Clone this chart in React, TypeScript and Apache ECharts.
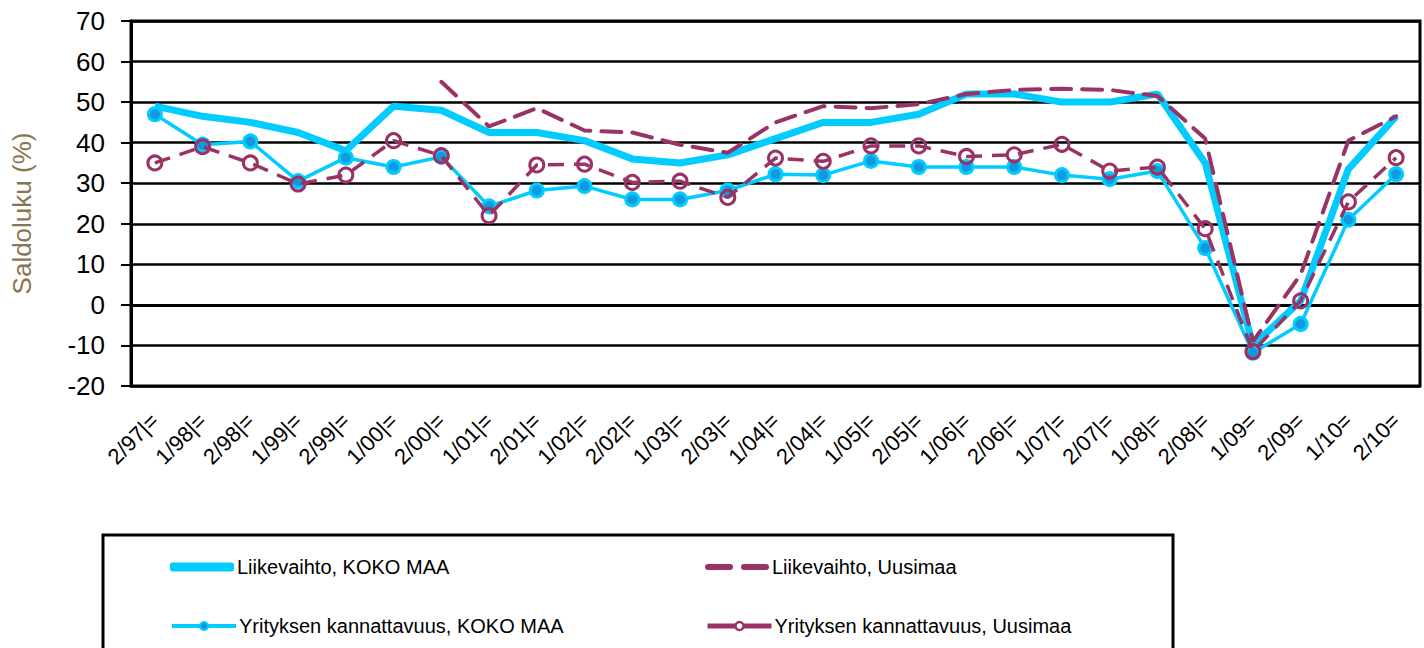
import React, { useEffect, useRef } from "react";
import * as echarts from "echarts";

const categories = [
  "2/97|=", "1/98|=", "2/98|=", "1/99|=", "2/99|=", "1/00|=", "2/00|=", "1/01|=", "2/01|=",
  "1/02|=", "2/02|=", "1/03|=", "2/03|=", "1/04|=", "2/04|=", "1/05|=", "2/05|=", "1/06|=",
  "2/06|=", "1/07|=", "2/07|=", "1/08|=", "2/08|=", "1/09=", "2/09=", "1/10=", "2/10=",
];

const liikevaihtoKoko = [49, 46.5, 45, 42.5, 38, 49, 48, 42.5, 42.5, 40.5, 36, 35, 37, 41, 45, 45, 47, 52, 52, 50, 50, 52, 35, -10, 1, 33.5, 46.5];
const liikevaihtoUusimaa = [null, null, null, null, null, null, 55, 44, 48.5, 43, 42.5, 39.5, 37.5, 45, 49, 48.5, 49.5, 52, 53, 53.3, 53, 51.5, 41, -9, 7.5, 40.5, 46.5];
const kannattavuusKoko = [47, 39.5, 40.3, 30.5, 36.3, 34, 36.5, 24.3, 28.2, 29.3, 26, 26, 28.2, 32.2, 32, 35.5, 34, 34, 34, 32, 31, 33, 14, -11.8, -4.7, 21, 32.2];
const kannattavuusUusimaa = [35, 39, 35, 29.8, 32, 40.5, 36.8, 22, 34.5, 34.7, 30.2, 30.5, 26.5, 36.2, 35.4, 39.2, 39.2, 36.6, 37, 39.6, 33, 34, 18.8, -11.5, 1, 25.4, 36.3];

const seriesNames = [
  "Liikevaihto, KOKO MAA",
  "Liikevaihto, Uusimaa",
  "Yrityksen kannattavuus, KOKO MAA",
  "Yrityksen kannattavuus, Uusimaa",
];

const CYAN = "#00CCFF";
const PURPLE = "#993366";
const FONT = "Liberation Sans, Arial, sans-serif";

export default function App() {
  const ref = useRef<HTMLDivElement>(null);
  useEffect(() => {
    if (!ref.current) return;
    const chart = echarts.init(ref.current, undefined, { renderer: "svg" });
    const legendPos = [
      { left: 170, top: 557 },
      { left: 705, top: 557 },
      { left: 170, top: 616 },
      { left: 705, top: 616 },
    ];
    const legendData: any[] = [
      { name: seriesNames[0], icon: "roundRect" },
      { name: seriesNames[1], icon: "path://M3,0h22a3,3 0 0 1 0,6h-22a3,3 0 0 1 0,-6z M39,0h22a3,3 0 0 1 0,6h-22a3,3 0 0 1 0,-6z" },
      { name: seriesNames[2], itemStyle: { color: "#1199DD", borderColor: CYAN, borderWidth: 2 } },
      { name: seriesNames[3], itemStyle: { color: "#fff", borderColor: PURPLE, borderWidth: 2.5 } },
    ];
    const legendCfg: any[] = [
      { itemHeight: 9 },
      { itemHeight: 6 },
      { itemHeight: 10, lineStyle: { width: 4, type: "solid" } },
      { itemHeight: 10, lineStyle: { width: 5, type: "solid" } },
    ];
    chart.setOption({
      animation: false,
      backgroundColor: "#fff",
      textStyle: { fontFamily: FONT },
      grid: {
        left: 131, right: 4, top: 21, bottom: 262,
        show: true, borderColor: "#000", borderWidth: 3,
      },
      xAxis: {
        type: "category",
        data: categories,
        boundaryGap: true,
        axisLine: { show: true, lineStyle: { color: "#000", width: 3 } },
        axisTick: { show: false },
        axisLabel: { rotate: 45, fontSize: 22, color: "#000", margin: 31, interval: 0, fontFamily: FONT },
      },
      yAxis: {
        type: "value",
        min: -20, max: 70, interval: 10,
        name: "Saldoluku (%)",
        nameLocation: "middle",
        nameRotate: 90,
        nameGap: 96,
        nameTextStyle: { fontSize: 26, color: "#8a7550", fontFamily: FONT, padding: [0, 20, 0, 0] },
        axisLine: { show: true, lineStyle: { color: "#000", width: 3 } },
        axisTick: { show: true, length: 10, lineStyle: { color: "#000", width: 2 } },
        axisLabel: { fontSize: 26, color: "#000", margin: 26, fontFamily: FONT },
        splitLine: { show: true, lineStyle: { color: "#000", width: 2.5 } },
      },
      legend: seriesNames.map((n, i) => ({
        data: [legendData[i]],
        left: legendPos[i].left,
        top: legendPos[i].top,
        padding: 0,
        itemWidth: 64,
        itemGap: 4,
        ...legendCfg[i],
        textStyle: { fontSize: 20, color: "#000", fontFamily: FONT, padding: [0, 0, 0, -2] },
        selectedMode: false,
      })),
      graphic: [
        {
          type: "rect",
          shape: { x: 103, y: 535, width: 1070, height: 130 },
          style: { fill: "none", stroke: "#000", lineWidth: 3 },
          z: 100,
        },
      ],
      series: [
        {
          name: seriesNames[0],
          type: "line",
          data: liikevaihtoKoko,
          symbol: "none",
          lineStyle: { color: CYAN, width: 7 },
          itemStyle: { color: CYAN },
          z: 2,
        },
        {
          name: seriesNames[1],
          type: "line",
          data: liikevaihtoUusimaa,
          symbol: "none",
          connectNulls: false,
          lineStyle: { color: PURPLE, width: 4, type: [20, 11], cap: "round" },
          itemStyle: { color: PURPLE },
          z: 3,
        },
        {
          name: seriesNames[2],
          type: "line",
          data: kannattavuusKoko,
          symbol: "circle",
          symbolSize: 13,
          lineStyle: { color: CYAN, width: 3.5 },
          itemStyle: { color: "#1199DD", borderColor: CYAN, borderWidth: 3 },
          z: 4,
        },
        {
          name: seriesNames[3],
          type: "line",
          data: kannattavuusUusimaa,
          symbol: "circle",
          symbolSize: 14,
          lineStyle: { color: PURPLE, width: 3.5, type: [16, 10] },
          itemStyle: { color: "rgba(255,255,255,0)", borderColor: PURPLE, borderWidth: 3 },
          z: 5,
        },
      ],
    });
    return () => chart.dispose();
  }, []);
  return (
    <div
      ref={ref}
      style={{ position: "fixed", left: 0, top: 0, width: 1424, height: 648 }}
    />
  );
}
